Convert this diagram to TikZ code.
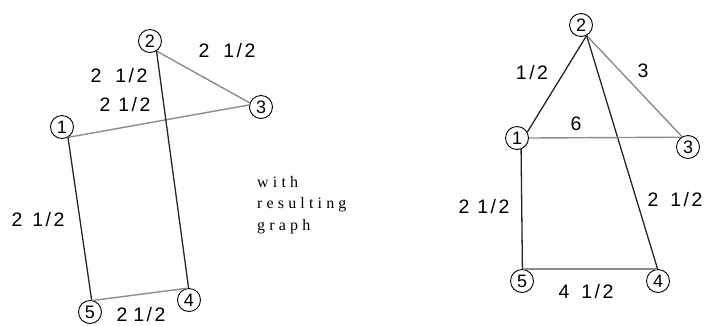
\documentclass[tikz,border=0pt]{standalone}
\usepackage{fontspec}
\setmainfont{Liberation Sans}
\newfontfamily\capfont[LetterSpace=26]{Liberation Serif}
\newcommand{\hlf}{1\kern2.5pt/\kern2.5pt2}
\begin{document}
\begin{tikzpicture}[x=1pt,y=-1pt,
  vtx/.style={circle,draw,line width=0.9pt,minimum size=23pt,inner sep=0pt,font=\fontsize{18}{18}\selectfont},
  blk/.style={line width=1.3pt,black!85},
  gry/.style={line width=1.4pt,black!45},
  lbl/.style={font=\fontsize{19.5}{19.5}\selectfont,inner sep=0pt},
  captxt/.style={anchor=base west,inner sep=0pt,font=\capfont\fontsize{16}{16}\selectfont}]
\useasboundingbox (0,0) rectangle (708,325);
% left graph
\node[vtx] (L1) at (62,127) {1};
\node[vtx] (L2) at (150,41) {2};
\node[vtx] (L3) at (261,107) {3};
\node[vtx] (L4) at (189,300) {4};
\node[vtx] (L5) at (90,312) {5};
\draw[gry] (L1.-60) -- (L3.170);
\draw[gry] (L2.-57) -- (L3.160);
\draw[blk] (L1.-60) -- (L5.82);
\draw[blk] (L2.-57) -- (L4.92);
\draw[gry] (L5.75) -- (L4.100);
\node[lbl] (a1) at (227,51) {2\hspace{14pt}\hlf};
\node[lbl] (a2) at (119,76) {2\hspace{14pt}\hlf};
\node[lbl] (a3) at (125,105) {2\hspace{8pt}\hlf};
\node[lbl] (a4) at (38,220) {2\hspace{10pt}\hlf};
\node[lbl] (a5) at (141,315) {2\hspace{6pt}\hlf};
% caption
\node[captxt] (c1) at (257,187) {with};
\node[captxt] (c2) at (257,208.5) {resulting};
\node[captxt] (c3) at (257,230) {graph};
% right graph
\node[vtx] (R1) at (517,138) {1};
\node[vtx] (R2) at (581,25) {2};
\node[vtx] (R3) at (688,147) {3};
\node[vtx] (R4) at (658,281) {4};
\node[vtx] (R5) at (522,281) {5};
\draw[blk] (R2.-62) -- (R1.30);
\draw[gry] (R2.-62) -- (R3.120);
\draw[blk] (R2.-62) -- (R4.92);
\draw[gry] (R1.0) -- (R3.125);
\draw[blk] (R1.-70) -- (R5.88);
\draw[gry] (R5.85) -- (R4.95);
\node[lbl] (b1) at (532,73) {\hlf};
\node[lbl] (b2) at (643,71) {3};
\node[lbl] (b3) at (576,124) {6};
\node[lbl] (b4) at (675,200) {2\hspace{12pt}\hlf};
\node[lbl] (b5) at (484,207) {2\hspace{8pt}\hlf};
\node[lbl] (b6) at (586,292) {4\hspace{12pt}\hlf};
\end{tikzpicture}
\end{document}
